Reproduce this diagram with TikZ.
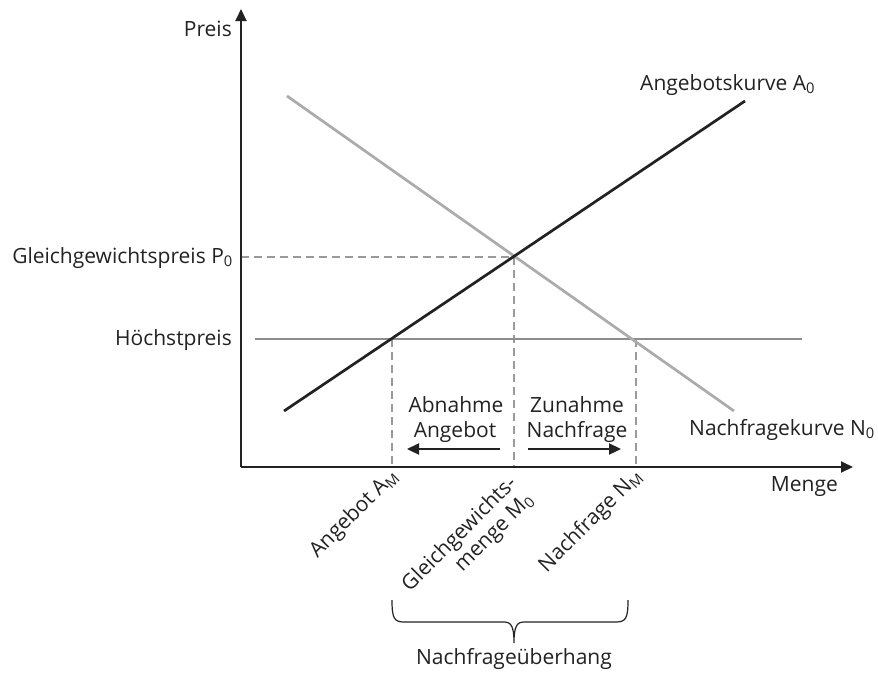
\documentclass[tikz,border=0pt]{standalone}
\usepackage{fontspec}
\setmainfont{Open Sans}
\usetikzlibrary{arrows.meta}
\definecolor{supply}{HTML}{222222}
\definecolor{demand}{HTML}{ABABAB}
\definecolor{capline}{HTML}{8C8C8C}
\definecolor{guide}{HTML}{9A9A9A}
\tikzset{
  axis/.style={line width=2pt, draw=supply, -{Triangle[length=12pt,width=11pt]}},
  guideline/.style={line width=2pt, draw=guide, dash pattern=on 8pt off 5pt},
  curve/.style={line width=2.7pt},
  lbl/.style={font=\fontsize{21}{24}\selectfont, inner sep=0pt, text=supply},
  shiftarrow/.style={line width=2.3pt, draw=supply, -{Triangle[length=12pt,width=11pt]}},
}
\begin{document}
\begin{tikzpicture}[x=1pt,y=-1pt]
\useasboundingbox (0,0) rectangle (878,672);

% key points
\coordinate (O) at (241,467);
\coordinate (ytop) at (241,9);
\coordinate (xend) at (853,467);
\coordinate (E) at (514,257);
\coordinate (P0) at (241,257);
\coordinate (M0) at (514,467);
\coordinate (AM) at (392,339);
\coordinate (AMb) at (392,467);
\coordinate (NM) at (636,339);
\coordinate (NMb) at (636,467);
\coordinate (hs) at (255,339);
\coordinate (he) at (802,339);
\coordinate (as) at (284,411);
\coordinate (ae) at (745,101);
\coordinate (ns) at (287,96);
\coordinate (ne) at (734,411);

% guide lines
\draw[guideline] (P0) -- (E);
\draw[guideline] (E) -- (M0);
\draw[guideline] (AM) -- (AMb);
\draw[guideline] (NM) -- (NMb);

% curves
\draw[curve, draw=capline] (hs) -- (he);
\draw[curve, draw=demand] (ns) -- (ne);
\draw[curve, draw=supply] (as) -- (ae);

% axes
\draw[axis] (O) -- (ytop);
\draw[axis] (O) -- (xend);

% axis labels
\node[lbl, anchor=base east] (preis) at (232,36) {Preis};
\node[lbl, anchor=base east] (menge) at (838,491) {Menge};
\node[lbl, anchor=base east] (p0lbl) at (233,263) {Gleichgewichtspreis P\textsubscript{0}};
\node[lbl, anchor=base east] (hplbl) at (232,345) {Höchstpreis};
\node[lbl, anchor=base west] (albl) at (640,90) {Angebotskurve A\textsubscript{0}};
\node[lbl, anchor=base west] (nlbl) at (689,435) {Nachfragekurve N\textsubscript{0}};

% shift labels and arrows
\node[lbl, anchor=base] (abn1) at (456,412) {Abnahme};
\node[lbl, anchor=base] (abn2) at (455,437) {Angebot};
\node[lbl, anchor=base] (zun1) at (577,412) {Zunahme};
\node[lbl, anchor=base] (zun2) at (577,437) {Nachfrage};
\coordinate (la) at (500,449);
\coordinate (lb) at (407,449);
\coordinate (ra) at (528,449);
\coordinate (rb) at (621,449);
\draw[shiftarrow] (la) -- (lb);
\draw[shiftarrow] (ra) -- (rb);

% rotated quantity labels
\node[lbl, rotate=45, anchor=base east] (amlbl) at (399,477) {Angebot A\textsubscript{M}};
\node[lbl, rotate=45, anchor=base east] (m0lbl1) at (517.7,484.3) {Gleichgewichts-};
\node[lbl, rotate=45, anchor=base east] (m0lbl2) at (534,501) {menge M\textsubscript{0}};
\node[lbl, rotate=45, anchor=base east] (nmlbl) at (643,477) {Nachfrage N\textsubscript{M}};

% brace
\coordinate (bl) at (392,600);
\coordinate (br) at (628,600);
\coordinate (bt) at (514,643);
\draw[line width=1.2pt, draw=supply]
  (bl) .. controls (392,618) and (394,622) .. (404,622) -- (504,622)
  .. controls (511,622) and (514,626) .. (bt)
  .. controls (514,626) and (517,622) .. (524,622) -- (616,622)
  .. controls (626,622) and (628,618) .. (br);
\node[lbl, anchor=base] (ueb) at (514,664) {Nachfrageüberhang};
\end{tikzpicture}
\end{document}
